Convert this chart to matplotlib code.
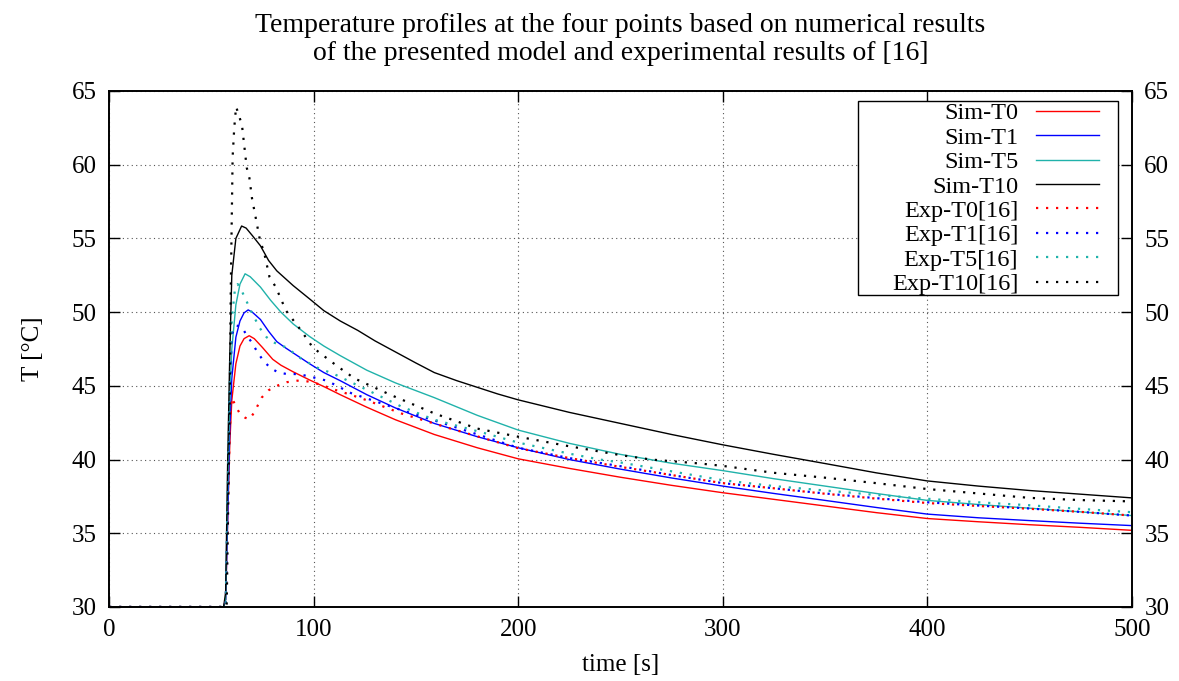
import matplotlib.pyplot as plt
from matplotlib.lines import Line2D
from matplotlib.patches import Rectangle
from matplotlib.legend_handler import HandlerLine2D

# ---- data ----
t_sim_t0 = [0, 56, 57, 58, 59, 60, 62, 64, 66, 68.5, 71, 75, 80, 84, 90, 98, 105, 113, 126,
            140, 159, 180, 200, 225, 250, 275, 300, 325, 350, 375, 400, 425, 450, 475, 500]
sim_t0 = [30, 30, 30.5, 36, 41, 44, 46.5, 47.7, 48.2, 48.4, 48.2, 47.6, 46.8, 46.4, 45.95, 45.4,
          44.95, 44.4, 43.55, 42.7, 41.7, 40.8, 40.05, 39.4, 38.8, 38.25, 37.75, 37.3, 36.85,
          36.4, 36.0, 35.78, 35.58, 35.4, 35.2]

t_sim_t1 = [0, 56, 57, 58, 59, 60, 62, 64, 66, 68, 70, 74, 78, 82, 86, 92, 98, 105, 113, 126,
            140, 159, 180, 200, 225, 250, 275, 300, 325, 350, 375, 400, 425, 450, 475, 500]
sim_t1 = [30, 30, 30.5, 36, 42, 45.5, 48.3, 49.4, 49.95, 50.15, 50.0, 49.5, 48.7, 48.0, 47.6,
          47.05, 46.5, 45.9, 45.35, 44.4, 43.5, 42.45, 41.55, 40.8, 40.0, 39.35, 38.75, 38.2, 37.7,
          37.23, 36.75, 36.3, 36.05, 35.86, 35.68, 35.52]

t_sim_t5 = [0, 56, 57, 58, 59, 60, 62, 64, 66.5, 69, 74, 79, 84, 90, 98, 105, 113, 126, 140,
            159, 180, 200, 225, 250, 275, 300, 325, 350, 375, 400, 425, 450, 475, 500]
sim_t5 = [30, 30, 30.5, 38, 44, 47.5, 50.5, 51.9, 52.6, 52.4, 51.7, 50.8, 50.0, 49.2, 48.35,
          47.7, 47.05, 46.06, 45.2, 44.2, 43.0, 42.0, 41.1, 40.35, 39.75, 39.25, 38.7, 38.2,
          37.7, 37.23, 36.95, 36.7, 36.45, 36.2]

t_sim_t10 = [0, 56, 57, 58, 59, 60, 62, 64.8, 67, 70, 74, 78, 82, 90, 98, 105, 113, 121.6, 130,
             140, 150, 159, 170, 180, 190, 200, 225, 250, 275, 300, 325, 350, 375, 400, 425,
             450, 475, 500]
sim_t10 = [30, 30, 31, 40, 47, 52.5, 55.0, 55.84, 55.7, 55.2, 54.5, 53.5, 52.8, 51.8, 50.9,
           50.1, 49.4, 48.76, 48.05, 47.3, 46.55, 45.9, 45.35, 44.9, 44.45, 44.05, 43.2, 42.45,
           41.7, 41.0, 40.35, 39.73, 39.1, 38.55, 38.2, 37.9, 37.65, 37.4]

t_exp_t0 = [0, 57, 58, 59, 60, 62, 64, 66.5, 68.6, 71, 74.6, 78, 82, 87, 92, 97, 103, 110, 118,
            126.5, 142.8, 167, 200, 225, 250, 275, 300, 325, 350, 375, 400, 425, 450, 475, 500]
exp_t0 = [30, 30, 36, 42, 44.2, 43.6, 43.1, 42.84, 42.73, 43.2, 44.2, 44.7, 45.0, 45.25, 45.35,
          45.3, 45.1, 44.75, 44.4, 44.0, 43.13, 42.1, 40.77, 40.1, 39.5, 38.95, 38.4, 38.05,
          37.68, 37.35, 37.05, 36.85, 36.66, 36.45, 36.2]

t_exp_t1 = [0, 57, 58, 59, 60, 62, 64.8, 67, 69.7, 72.5, 75.4, 79, 82.8, 87, 92.6, 99, 106.5,
            118.4, 142.8, 167, 200, 225, 250, 275, 300, 325, 350, 375, 400, 425, 450, 475, 500]
exp_t1 = [30, 30, 37, 44, 48.5, 49.1, 49.0, 48.5, 47.95, 47.3, 46.7, 46.2, 45.9, 45.8, 45.8,
          45.6, 45.35, 44.5, 43.36, 42.3, 40.8, 40.1, 39.55, 38.95, 38.4, 38.05, 37.7, 37.38,
          37.1, 36.88, 36.68, 36.45, 36.2]

t_exp_t5 = [0, 57, 58, 59, 60, 61.5, 62.9, 65, 67, 70, 73.8, 77, 80.3, 86.8, 93.3, 101.5, 110,
            126.5, 142.8, 159, 183.4, 200, 225, 240, 250, 275, 300, 325, 350, 375, 400, 425,
            450, 475, 500]
exp_t5 = [30, 30, 38, 45, 49.5, 51.5, 51.9, 51.4, 50.8, 49.9, 48.9, 48.3, 47.95, 47.6, 46.9,
          46.25, 45.8, 44.7, 43.6, 42.7, 41.8, 41.15, 40.4, 40.0, 39.8, 39.2, 38.6, 38.2, 37.9,
          37.6, 37.34, 37.1, 36.9, 36.65, 36.43]

t_exp_t10 = [0, 57.5, 59, 59.5, 60.4, 61.2, 62.1, 63.6, 65, 67.3, 68.6, 69.9, 71.7, 73.5, 76.2,
             78.4, 81.5, 86.5, 93.9, 99.6, 106.2, 111.9, 120, 137.9, 159, 180, 200, 225, 250,
             265, 289, 300, 325, 350, 375, 400, 425, 450, 475, 500]
exp_t10 = [30, 30, 44, 51.5, 60.5, 62.5, 63.93, 63.3, 62.65, 59.8, 59.1, 57.7, 56.4, 55.07,
           53.8, 52.4, 51.7, 50.1, 48.75, 47.6, 46.9, 46.3, 45.5, 44.37, 43.13, 42.1, 41.55,
           40.9, 40.3, 40.0, 39.73, 39.57, 39.1, 38.77, 38.4, 38.0, 37.7, 37.4, 37.25, 37.16]

series = [
    ("Sim-T0", t_sim_t0, sim_t0, "#ff0000", "-"),
    ("Sim-T1", t_sim_t1, sim_t1, "#0000ff", "-"),
    ("Sim-T5", t_sim_t5, sim_t5, "#20b2aa", "-"),
    ("Sim-T10", t_sim_t10, sim_t10, "#000000", "-"),
    ("Exp-T0[16]", t_exp_t0, exp_t0, "#ff0000", ":"),
    ("Exp-T1[16]", t_exp_t1, exp_t1, "#0000ff", ":"),
    ("Exp-T5[16]", t_exp_t5, exp_t5, "#20b2aa", ":"),
    ("Exp-T10[16]", t_exp_t10, exp_t10, "#000000", ":"),
]

plt.rcParams['font.family'] = ['Liberation Serif', 'DejaVu Serif']
fs = 18

fig = plt.figure(figsize=(11.79, 6.81), dpi=100)
ax = fig.add_axes([0.0925, 0.1087, 0.8675, 0.7577])

for name, tt, vv, col, ls in series:
    if ls == "-":
        ax.plot(tt, vv, color=col, lw=1.0, label=name)
    else:
        ax.plot(tt, vv, color=col, lw=1.6, linestyle=(0, (1, 3.5)), label=name)

ax.set_xlim(0, 500)
ax.set_ylim(30, 65)
ax.set_xticks([0, 100, 200, 300, 400, 500])
ax.set_yticks([30, 35, 40, 45, 50, 55, 60, 65])
ax.grid(True, color="#555555", linestyle=(0, (1, 3)), lw=0.8)
ax.tick_params(direction="in", length=8, width=1, top=True, right=True,
               labelright=True, labelsize=fs, pad=9)
for sp in ax.spines.values():
    sp.set_linewidth(1.4)

ax.set_xlabel("time [s]", fontsize=fs, labelpad=9)
ax.set_ylabel("T [°C]", fontsize=fs, labelpad=20)
ax.set_title("Temperature profiles at the four points based on numerical results\n"
             "of the presented model and experimental results of [16]",
             fontsize=20, pad=22, linespacing=1.2)

# gnuplot-like key box (wider on the left than the entries need)
key_box = Rectangle((0.7322, 0.6047), 0.2541, 0.3759, transform=ax.transAxes,
                    facecolor="white", edgecolor="black", lw=1.0, zorder=4.9)
ax.add_patch(key_box)

leg = ax.legend(loc="upper right", bbox_to_anchor=(0.9814, 0.9806), fontsize=17.5,
                markerfirst=False, frameon=False,
                numpoints=2, handler_map={Line2D: HandlerLine2D(marker_pad=0.52)},
                handlelength=3.64, handletextpad=0.2, labelspacing=0.1,
                borderpad=0.05, borderaxespad=0)
leg.set_zorder(5)

fig.savefig("out.png", dpi=100)
